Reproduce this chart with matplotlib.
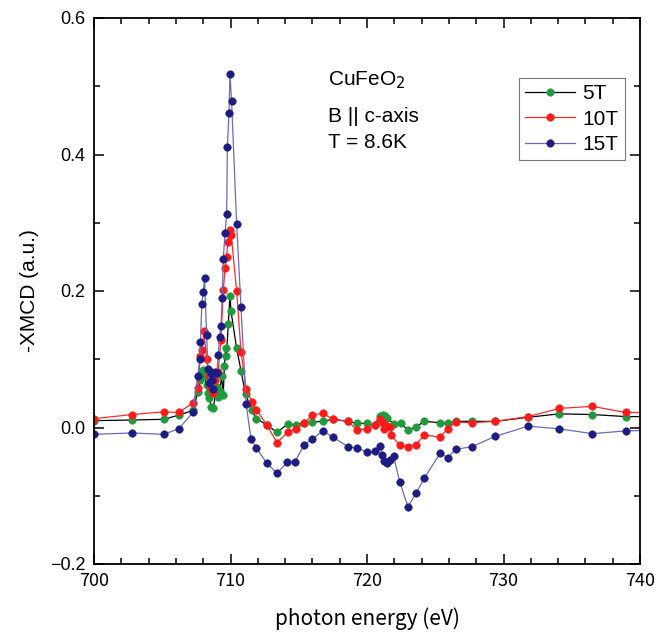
import numpy as np
import matplotlib
matplotlib.use('Agg')
import matplotlib.pyplot as plt
from matplotlib.ticker import MultipleLocator

# ------------------------------------------------------------------
# data (photon energy in eV, -XMCD in a.u.)
# ------------------------------------------------------------------
e_5T = [700.0, 702.8, 705.1, 706.2, 707.25, 707.6, 707.8, 707.9, 708.0, 708.1,
        708.25, 708.35, 708.45, 708.6, 708.75, 708.9, 709.0, 709.1, 709.22, 709.35,
        709.47, 709.55, 709.64, 709.7, 709.84, 709.96, 710.04, 710.45, 710.77, 711.1,
        711.55, 711.9, 712.65, 713.4, 714.2, 714.8, 715.35, 716.0, 716.75, 717.5,
        718.6, 719.3, 720.0, 720.55, 720.95, 721.15, 721.35, 721.5, 721.95, 722.5,
        723.0, 723.6, 724.2, 725.35, 725.9, 726.5, 727.7, 729.4, 731.8, 734.1,
        736.5, 738.95, 741.0]
y_5T = [0.010, 0.011, 0.012, 0.018, 0.025, 0.052, 0.070, 0.080, 0.084, 0.075,
        0.062, 0.050, 0.043, 0.030, 0.028, 0.050, 0.060, 0.045, 0.054, 0.075,
        0.048, 0.090, 0.116, 0.105, 0.152, 0.192, 0.170, 0.116, 0.083, 0.049,
        0.025, 0.013, 0.004, -0.007, 0.005, 0.004, 0.007, 0.008, 0.009, 0.012,
        0.009, 0.006, 0.006, 0.003, 0.017, 0.019, 0.017, 0.014, 0.005, 0.006,
        -0.004, 0.001, 0.009, 0.007, 0.006, 0.009, 0.009, 0.009, 0.015, 0.020,
        0.019, 0.016, 0.016]

e_10T = [700.0, 702.8, 705.1, 706.2, 707.25, 707.6, 707.8, 707.9, 708.05, 708.25,
         708.4, 708.5, 708.6, 708.75, 708.9, 709.1, 709.3, 709.47, 709.6, 709.72,
         709.8, 709.9, 709.96, 710.05, 710.45, 710.77, 711.15, 711.55, 711.9, 712.65,
         713.4, 714.2, 714.8, 715.35, 716.0, 716.75, 717.5, 718.6, 719.3, 720.0,
         720.55, 720.95, 721.15, 721.25, 721.45, 721.65, 721.75, 722.4, 723.0, 723.6,
         724.2, 725.35, 725.9, 726.5, 727.7, 729.4, 731.8, 734.1, 736.5, 738.95,
         741.0]
y_10T = [0.013, 0.019, 0.023, 0.022, 0.036, 0.058, 0.105, 0.114, 0.141, 0.101,
         0.075, 0.060, 0.082, 0.050, 0.070, 0.082, 0.128, 0.201, 0.233, 0.250,
         0.272, 0.285, 0.289, 0.282, 0.200, 0.111, 0.056, 0.038, 0.026, 0.004,
         -0.022, -0.007, -0.002, 0.006, 0.018, 0.021, 0.012, 0.009, -0.004, -0.002,
         0.004, 0.013, 0.007, -0.002, 0.002, 0.001, -0.011, -0.026, -0.028, -0.025,
         -0.011, -0.014, -0.002, 0.008, 0.007, 0.009, 0.016, 0.028, 0.031, 0.022,
         0.022]

e_15T = [700.0, 702.8, 705.1, 706.2, 707.25, 707.6, 707.75, 707.8, 707.9, 708.0,
         708.1, 708.25, 708.35, 708.45, 708.55, 708.65, 708.75, 708.85, 709.0, 709.1,
         709.2, 709.3, 709.4, 709.47, 709.6, 709.72, 709.77, 709.89, 709.96, 710.08,
         710.45, 710.77, 711.15, 711.5, 711.9, 712.65, 713.4, 714.15, 714.7, 715.4,
         716.0, 716.75, 717.5, 718.6, 719.3, 720.0, 720.55, 720.95, 721.1, 721.25,
         721.45, 721.65, 721.95, 722.4, 723.0, 723.6, 724.2, 725.35, 725.9, 726.5,
         727.7, 729.4, 731.8, 734.1, 736.5, 738.95, 741.0]
y_15T = [-0.010, -0.008, -0.010, -0.002, 0.022, 0.075, 0.100, 0.126, 0.181, 0.198,
         0.219, 0.136, 0.085, 0.065, 0.080, 0.070, 0.057, 0.082, 0.080, 0.106,
         0.133, 0.148, 0.190, 0.247, 0.285, 0.313, 0.411, 0.461, 0.518, 0.478,
         0.298, 0.176, 0.034, -0.017, -0.030, -0.052, -0.067, -0.051, -0.051, -0.025,
         -0.017, -0.005, -0.014, -0.028, -0.030, -0.036, -0.035, -0.027, -0.041, -0.049,
         -0.052, -0.047, -0.042, -0.080, -0.116, -0.096, -0.074, -0.038, -0.044, -0.032,
         -0.028, -0.013, 0.002, -0.002, -0.009, -0.005, -0.004]

series = [
    ('5T', e_5T, y_5T, 'black', '#1f9a3c'),
    ('10T', e_10T, y_10T, '#ff2a2a', '#ff1a1a'),
    ('15T', e_15T, y_15T, '#6a6ab8', '#1c1c82'),
]

# ------------------------------------------------------------------
fig = plt.figure(figsize=(6.58, 6.32), dpi=100)
ax = fig.add_axes([94 / 658, 1 - 564 / 632, 546 / 658, 546 / 632])

for label, e, y, lc, mc in series:
    ax.plot(e, y, color=lc, linewidth=0.9, marker='o', markersize=5.5,
            markerfacecolor=mc, markeredgecolor=mc, markeredgewidth=0.3,
            label=label)

ax.set_xlim(700, 740)
ax.set_ylim(-0.2, 0.6)
ax.xaxis.set_major_locator(MultipleLocator(10))
ax.xaxis.set_minor_locator(MultipleLocator(2))
ax.yaxis.set_major_locator(MultipleLocator(0.2))
ax.yaxis.set_minor_locator(MultipleLocator(0.1))
ax.tick_params(which='both', direction='in', top=True, right=True, width=1.1)
ax.tick_params(which='major', length=7, labelsize=13, pad=6)
ax.tick_params(which='minor', length=4)
for sp in ax.spines.values():
    sp.set_linewidth(1.3)

for t in ax.get_yticklabels():
    t.set_family('Liberation Sans')
for t in ax.get_xticklabels():
    t.set_family('Noto Sans CJK JP')

ax.set_xlabel('photon energy (eV)', fontsize=15, family='Noto Sans CJK JP', labelpad=12)
ax.set_ylabel('-XMCD (a.u.)', fontsize=15, family='Liberation Sans', labelpad=8)

# sample info
ax.text(0.429, 0.877, r'CuFeO$_2$', transform=ax.transAxes, fontsize=15,
        family='Liberation Sans', va='baseline')
ax.text(0.429, 0.8095, 'B || c-axis', transform=ax.transAxes, fontsize=15,
        family='Liberation Sans', va='baseline')
ax.text(0.429, 0.762, 'T = 8.6K', transform=ax.transAxes, fontsize=15,
        family='Liberation Sans', va='baseline')

leg = ax.legend(loc='upper right', bbox_to_anchor=(0.9725, 0.89),
                prop={'family': 'Liberation Sans', 'size': 15},
                fancybox=False, framealpha=1, edgecolor='#777777',
                handlelength=2.4, handletextpad=0.35, labelspacing=0.3,
                borderpad=0.3, borderaxespad=0.0)
leg.get_frame().set_linewidth(0.8)

fig.savefig('out.png', dpi=100)
